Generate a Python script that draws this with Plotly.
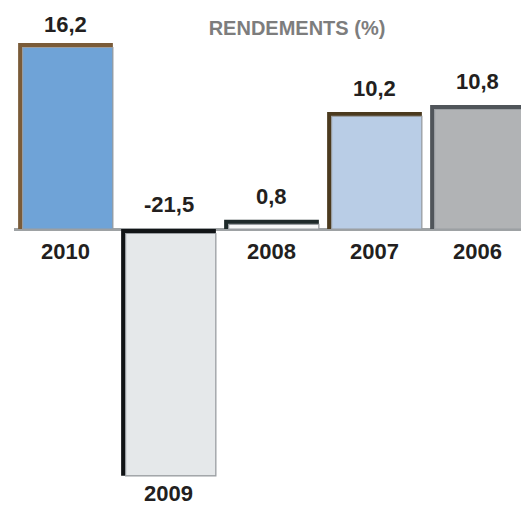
import plotly.graph_objects as go

years = ["2010", "2009", "2008", "2007", "2006"]
values = [16.2, -21.5, 0.8, 10.2, 10.8]
fill_colors = ["#6fa3d7", "#e5e8ea", "#f7f8f8", "#b9cde6", "#b1b3b5"]
edge_colors = ["#7a5b38", "#111416", "#1e2a2a", "#4b3a1e", "#50555a"]
value_label_gap = [4, 10, 9, 9, 9]
title_text = "RENDEMENTS (%)"

# page body has an 8px margin; figure sized to fit the 529x505 window
W, H = 521, 497
ml = 6
ncat = len(years)
px_per_cat = (W - ml) / ncat
zero_px = 221
px_per_unit = 11.48
y_hi = zero_px / px_per_unit
y_lo = -(H - zero_px) / px_per_unit

bw = 0.92
t_px = 4.5
tx = t_px / px_per_cat
ty = t_px / px_per_unit

xs = list(range(ncat))

fig = go.Figure()
# edge (dark left/top border)
fig.add_trace(go.Bar(
    x=xs, y=values, width=bw, offset=-bw / 2,
    marker=dict(color=edge_colors, line=dict(width=0)),
    hoverinfo="skip", showlegend=False,
))
# fill
fill_base = [0 if v >= 0 else -ty for v in values]
fill_len = [v - ty if v >= 0 else v + ty for v in values]
fig.add_trace(go.Bar(
    x=xs, y=fill_len, base=fill_base, width=bw - tx, offset=-bw / 2 + tx,
    marker=dict(color=fill_colors, line=dict(width=1.2, color="#9a9ea2")),
    hoverinfo="skip", showlegend=False,
))

font_lbl = dict(family="Liberation Sans, Arial, sans-serif", size=22, color="#231f20")
anns = []
for i, (yr, v) in enumerate(zip(years, values)):
    lab = f"{v:.1f}".replace(".", ",")
    if v >= 0:
        anns.append(dict(x=i, y=v, text=f"<b>{lab}</b>", showarrow=False,
                         yanchor="bottom", yshift=value_label_gap[i], font=font_lbl))
        anns.append(dict(x=i, y=0, text=f"<b>{yr}</b>", showarrow=False,
                         yanchor="top", yshift=-8, font=font_lbl))
    else:
        anns.append(dict(x=i, y=0, text=f"<b>{lab}</b>", showarrow=False,
                         yanchor="bottom", yshift=value_label_gap[i], font=font_lbl))
        anns.append(dict(x=i, y=v, text=f"<b>{yr}</b>", showarrow=False,
                         yanchor="top", yshift=-3, font=font_lbl))

layout_title = dict(
    text=f"<b>{title_text}</b>", x=289 / W, xanchor="center", y=1 - 20 / H, yanchor="middle",
    font=dict(family="Liberation Sans, Arial, sans-serif", size=20, color="#7d7d7d"),
)

fig.update_layout(
    width=W, height=H,
    margin=dict(l=ml, r=0, t=0, b=0),
    paper_bgcolor="white", plot_bgcolor="white",
    barmode="overlay",
    title=layout_title,
    xaxis=dict(range=[-0.5, ncat - 0.5], visible=False, fixedrange=True),
    yaxis=dict(range=[y_lo, y_hi], showgrid=False, showticklabels=False,
               zeroline=True, zerolinecolor="#9ea2a4", zerolinewidth=2.5, fixedrange=True),
    annotations=anns,
    showlegend=False,
)

fig.write_html("out.html")
